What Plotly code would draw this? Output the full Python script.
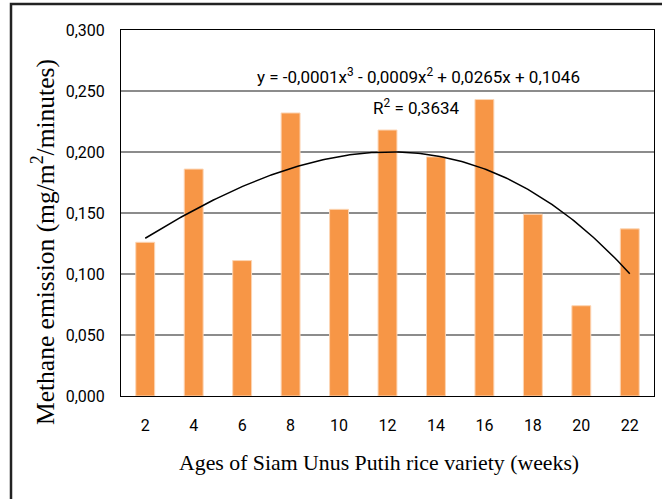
import numpy as np
import plotly.graph_objects as go

ages = [2, 4, 6, 8, 10, 12, 14, 16, 18, 20, 22]
emission = [0.126, 0.186, 0.111, 0.232, 0.153, 0.218, 0.196, 0.243, 0.149, 0.074, 0.137]
y_ticks = [0.0, 0.05, 0.10, 0.15, 0.20, 0.25, 0.30]
equation_text = "y = -0,0001x<sup>3</sup> - 0,0009x<sup>2</sup> + 0,0265x + 0,1046"
r2_text = "R<sup>2</sup> = 0,3634"
x_title = "Ages of Siam Unus Putih rice variety (weeks)"
y_title = "Methane emission (mg/m<sup>2</sup>/minutes)"

# Excel-style polynomial (order 3) trendline on category index
idx = np.arange(1, len(ages) + 1)
coef = np.polyfit(idx, emission, 3)
t = np.linspace(1, len(ages), 200)
trend_x = 2 * t
trend_y = np.polyval(coef, t)

sans = "Roboto, Liberation Sans, sans-serif"
serif = "Liberation Serif, Times New Roman, serif"
tick_font = dict(family=sans, size=16, color="#000")

W, H = 662, 499
pl, pr, pt, pb = 121, 8, 30, 103
pw, ph = W - pl - pr, H - pt - pb


def px_to_paper(px, py):
    return (px - pl) / pw, 1 - (py - pt) / ph


fig = go.Figure()
fig.add_trace(go.Bar(x=ages, y=emission, marker=dict(color="#F79646", line=dict(color="#FCD5B4", width=1)),
                     width=0.78, showlegend=False))
fig.add_trace(go.Scatter(x=trend_x, y=trend_y, mode="lines", line=dict(color="#000", width=1.5),
                         showlegend=False, hoverinfo="skip"))

yt_x, yt_y = px_to_paper(43, 242)
xt_x, xt_y = px_to_paper(379, 463)
f0x, f0y = px_to_paper(11, 504)
f1x, f1y = px_to_paper(665, 4)

fig.update_layout(
    width=W, height=H,
    margin=dict(l=pl, r=pr, t=pt, b=pb),
    paper_bgcolor="white", plot_bgcolor="white",
    separators=",.",
    xaxis=dict(range=[1, 23], tickvals=ages, ticktext=[str(a) for a in ages], showgrid=False,
               zeroline=False, showline=True, linecolor="#000", linewidth=1, mirror=True,
               ticks="", tickfont=tick_font, ticklabelstandoff=15),
    yaxis=dict(range=[0, 0.3], tickvals=y_ticks, tickformat=".3f", showgrid=True, gridcolor="#8c8c8c",
               gridwidth=1.5, zeroline=False, showline=True, linecolor="#000", linewidth=1, mirror=True,
               ticks="", tickfont=tick_font, ticklabelstandoff=12),
    annotations=[
        dict(x=13.26, y=0.2625, xref="x", yref="y", text=equation_text, showarrow=False,
             font=dict(family=sans, size=17, color="#000")),
        dict(x=13.18, y=0.2365, xref="x", yref="y", text=r2_text, showarrow=False,
             font=dict(family=sans, size=17, color="#000")),
        dict(x=yt_x, y=yt_y, xref="paper", yref="paper", text=y_title, textangle=-90, showarrow=False,
             xanchor="center", yanchor="middle",
             font=dict(family=serif, size=25.5, color="#000")),
        dict(x=xt_x, y=xt_y, xref="paper", yref="paper", text=x_title, showarrow=False,
             xanchor="center", yanchor="middle",
             font=dict(family=serif, size=21.8, color="#000")),
    ],
    shapes=[dict(type="rect", xref="paper", yref="paper", x0=f0x, x1=f1x, y0=f0y, y1=f1y,
                 line=dict(color="#222", width=2.5), layer="above")],
)

fig.write_html("out.html", config={"displayModeBar": False},
               post_script="document.body.style.margin='0';")
